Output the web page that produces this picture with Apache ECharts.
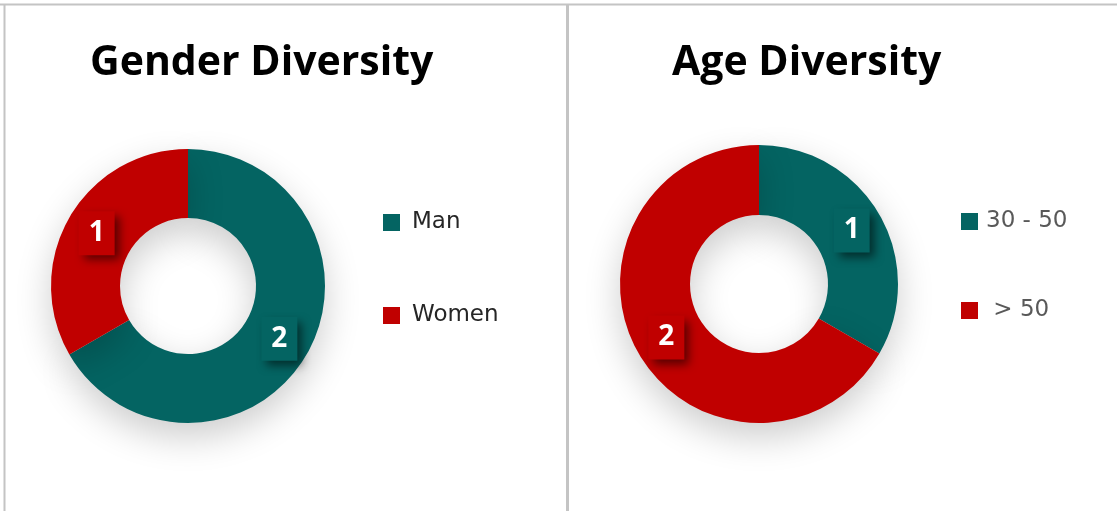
<!DOCTYPE html>
<html>
<head>
<meta charset="utf-8">
<script src="https://cdn.jsdelivr.net/npm/echarts@6/dist/echarts.min.js"></script>
<style>
    html, body { margin: 0; padding: 0; background: #fff; }
    #chart { width: 1117px; height: 511px; }
</style>
</head>
<body>
<div id="chart"></div>
<script>
// gender donut
var genderNames = ['Man', 'Women'];
var genderValues = [2, 1];
// age donut
var ageNames = ['30 - 50', ' > 50'];
var ageValues = [1, 2];

var teal = '#046462';
var red = '#C00000';

var chart = echarts.init(document.getElementById('chart'));

// build pie data, label box uses the slice colour
function buildData(names, values, colors) {
    var out = [];
    names.forEach(function (n, i) {
        out.push({
            name: n,
            value: values[i],
            itemStyle: { color: colors[i] },
            label: { backgroundColor: colors[i] }
        });
    });
    return out;
}

var labelStyle = {
    show: true,
    position: 'inside',
    formatter: '{c}',
    color: '#fff',
    fontFamily: 'Open Sans',
    fontWeight: 'bold',
    fontSize: 28,
    padding: [8, 10, 8, 10],
    shadowColor: 'rgba(0,0,0,0.55)',
    shadowBlur: 9,
    shadowOffsetX: 5,
    shadowOffsetY: 5
};

var pieShadow = {
    shadowColor: 'rgba(0,0,0,0.2)',
    shadowBlur: 36,
    shadowOffsetY: 14
};

var titleFont = { fontFamily: 'Open Sans', fontWeight: 'bold', fontSize: 41, color: '#000' };

var option = {
    backgroundColor: '#fff',
    title: [
        { text: 'Gender Diversity', left: 85, top: 38, textStyle: titleFont },
        { text: 'Age Diversity', left: 667, top: 38, textStyle: titleFont }
    ],
    legend: [
        {
            orient: 'vertical',
            left: 378,
            top: 206,
            icon: 'rect',
            itemWidth: 17,
            itemHeight: 17,
            itemGap: 70,
            data: genderNames,
            textStyle: { fontFamily: 'DejaVu Sans', fontSize: 23, color: '#262626', padding: [0, 0, 0, 7] }
        },
        {
            orient: 'vertical',
            left: 956,
            top: 205,
            icon: 'rect',
            itemWidth: 17,
            itemHeight: 17,
            itemGap: 66,
            data: ageNames,
            textStyle: { fontFamily: 'DejaVu Sans', fontSize: 23, color: '#595959', padding: [0, 0, 0, 3] }
        }
    ],
    graphic: [
        { type: 'line', shape: { x1: 0, y1: 4.5, x2: 1117, y2: 4.5 }, style: { stroke: '#c4c4c4', lineWidth: 2 } },
        { type: 'line', shape: { x1: 4.5, y1: 4, x2: 4.5, y2: 511 }, style: { stroke: '#c4c4c4', lineWidth: 2 } },
        { type: 'line', shape: { x1: 567.5, y1: 4, x2: 567.5, y2: 511 }, style: { stroke: '#c4c4c4', lineWidth: 3 } }
    ],
    series: [
        {
            name: 'Gender Diversity',
            type: 'pie',
            center: [188, 286],
            radius: [68, 137],
            startAngle: 90,
            clockwise: true,
            avoidLabelOverlap: false,
            silent: true,
            itemStyle: pieShadow,
            label: labelStyle,
            labelLine: { show: false },
            data: buildData(genderNames, genderValues, [teal, red])
        },
        {
            name: 'Age Diversity',
            type: 'pie',
            center: [759, 284],
            radius: [69, 139],
            startAngle: 90,
            clockwise: true,
            avoidLabelOverlap: false,
            silent: true,
            itemStyle: pieShadow,
            label: labelStyle,
            labelLine: { show: false },
            data: buildData(ageNames, ageValues, [teal, red])
        }
    ]
};

chart.setOption(option);
</script>
</body>
</html>
